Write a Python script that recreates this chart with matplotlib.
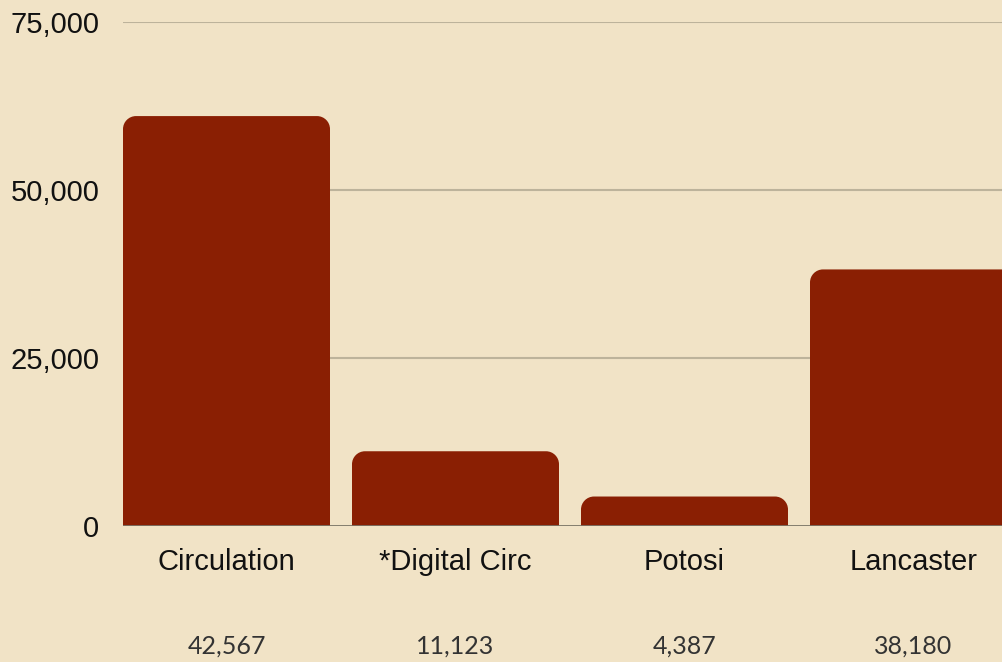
import numpy as np
import matplotlib
matplotlib.use("Agg")
import matplotlib.pyplot as plt
from matplotlib.path import Path
from matplotlib.patches import PathPatch
from matplotlib.ticker import FuncFormatter
import matplotlib.transforms as mtransforms

categories = ["Circulation", "*Digital Circ", "Potosi", "Lancaster"]
bar_values = [61000, 11123, 4387, 38180]
value_labels = ["42,567", "11,123", "4,387", "38,180"]
y_ticks = [0, 25000, 50000, 75000]

bg = "#F1E3C6"
bar_color = "#8A1F03"
grid_color = "#BDB39B"

plt.rcParams['font.family'] = ['Liberation Sans', 'DejaVu Sans']

W, H = 1003, 662
fig = plt.figure(figsize=(W / 100, H / 100), dpi=100)
fig.patch.set_facecolor(bg)

# axes runs off the right edge, like the reference
left_px, zero_px, top_px = 123, 526, 22
pitch_px = 229
bar_w = 207 / pitch_px
x_lo = -bar_w / 2
x_hi = 3 + (1 - bar_w / 2)
ax = fig.add_axes([left_px / W, (H - zero_px) / H,
                   (x_hi - x_lo) * pitch_px / W, (zero_px - top_px) / H])
ax.set_facecolor(bg)
ax.set_xlim(x_lo, x_hi)
ax.set_ylim(0, 75000)

for s in ax.spines.values():
    s.set_visible(False)

ax.set_yticks(y_ticks)
ax.yaxis.set_major_formatter(FuncFormatter(lambda v, p: f"{int(v):,}"))
ax.tick_params(axis='y', length=0, pad=17, labelsize=21, labelcolor="#111111")
ax.set_xticks([])
for t in y_ticks[1:]:
    ax.axhline(t, color=grid_color, lw=1.5, zorder=0)
ax.axhline(0, color="#7a7466", lw=2, zorder=3)

# rounded top corners, radius in pixels converted to data units
r_px = 13
rx = r_px / pitch_px
ry = r_px * 75000 / (zero_px - top_px)
k = 0.5523
x = np.arange(len(categories))
for xi, v in zip(x, bar_values):
    x0, x1 = xi - bar_w / 2, xi + bar_w / 2
    verts = [(x0, 0), (x0, v - ry),
             (x0, v - ry + k * ry), (x0 + rx - k * rx, v), (x0 + rx, v),
             (x1 - rx, v),
             (x1 - rx + k * rx, v), (x1, v - ry + k * ry), (x1, v - ry),
             (x1, 0), (x0, 0)]
    codes = [Path.MOVETO, Path.LINETO,
             Path.CURVE4, Path.CURVE4, Path.CURVE4,
             Path.LINETO,
             Path.CURVE4, Path.CURVE4, Path.CURVE4,
             Path.LINETO, Path.CLOSEPOLY]
    ax.add_patch(PathPatch(Path(verts, codes), facecolor=bar_color,
                           edgecolor='none', zorder=2))

trans = mtransforms.blended_transform_factory(ax.transData, fig.transFigure)
for xi, cat, lab in zip(x, categories, value_labels):
    ax.text(xi, (H - 570) / H, cat, transform=trans, ha='center', va='baseline',
            fontsize=21, color="#111111", clip_on=False)
    ax.text(xi, (H - 654) / H, lab, transform=trans, ha='center', va='baseline',
            fontsize=18, color="#333333", family=['Lato', 'DejaVu Sans'],
            clip_on=False)

fig.savefig("out.png", dpi=100, facecolor=bg)
